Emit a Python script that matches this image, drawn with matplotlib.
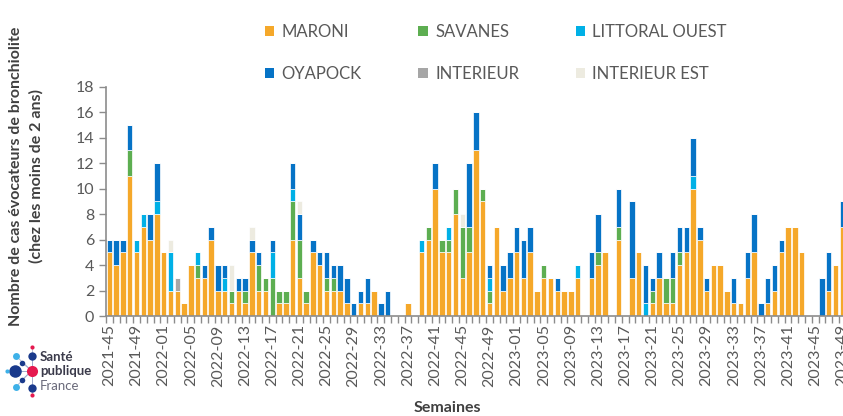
import matplotlib.pyplot as plt
from matplotlib.patches import Patch

plt.rcParams['font.family'] = ['Lato', 'DejaVu Sans']

# weeks 2021-45 .. 2023-49
weeks = [f"2021-{w:02d}" for w in range(45, 53)]
weeks += [f"2022-{w:02d}" for w in range(1, 53)]
weeks += [f"2023-{w:02d}" for w in range(1, 50)]

maroni = [5, 4, 5, 11, 5, 7, 6, 8, 5, 2, 2, 1, 4, 3, 3, 6, 2, 2, 1, 2,
          1, 5, 2, 2, 0, 1, 1, 6, 3, 1, 5, 4, 2, 2, 2, 1, 0, 1, 1, 2,
          0, 0, 0, 0, 1, 0, 5, 6, 10, 5, 5, 8, 3, 5, 13, 9, 1, 7, 2, 3,
          5, 3, 5, 2, 3, 3, 2, 2, 2, 3, 0, 3, 4, 5, 0, 6, 0, 3, 5, 0,
          1, 3, 1, 1, 4, 5, 10, 6, 2, 4, 4, 2, 1, 1, 3, 5, 0, 1, 2, 5,
          7, 7, 5, 0, 0, 0, 2, 4, 7]
savanes = [0, 0, 0, 2, 0, 0, 0, 0, 0, 0, 0, 0, 0, 1, 0, 0, 0, 0, 1, 0,
           1, 0, 2, 1, 3, 1, 1, 3, 3, 1, 0, 0, 1, 1, 0, 0, 0, 0, 0, 0,
           0, 0, 0, 0, 0, 0, 0, 1, 0, 1, 1, 2, 4, 2, 0, 1, 1, 0, 0, 0,
           0, 0, 0, 0, 1, 0, 0, 0, 0, 0, 0, 0, 1, 0, 0, 1, 0, 0, 0, 0,
           1, 0, 2, 2, 1, 0, 0, 0, 0, 0, 0, 0, 0, 0, 0, 0, 0, 0, 0, 0,
           0, 0, 0, 0, 0, 0, 0, 0, 0]
littoral_ouest = [0, 0, 0, 0, 1, 1, 0, 1, 0, 3, 0, 0, 0, 1, 0, 0, 0, 1, 0, 0,
                  0, 0, 0, 0, 2, 0, 0, 1, 0, 0, 0, 0, 0, 0, 0, 0, 0, 0, 0, 0,
                  0, 0, 0, 0, 0, 0, 1, 0, 0, 0, 1, 0, 0, 0, 0, 0, 1, 0, 0, 0,
                  0, 0, 0, 0, 0, 0, 0, 0, 0, 1, 0, 0, 0, 0, 0, 0, 0, 0, 0, 1,
                  0, 0, 0, 0, 0, 0, 1, 0, 0, 0, 0, 0, 0, 0, 0, 0, 0, 0, 0, 0,
                  0, 0, 0, 0, 0, 0, 0, 0, 0]
oyapock = [1, 2, 1, 2, 0, 0, 2, 3, 0, 0, 0, 0, 0, 0, 1, 1, 2, 1, 0, 1,
           1, 1, 1, 0, 1, 0, 0, 2, 2, 0, 1, 1, 2, 1, 2, 2, 1, 1, 2, 0,
           1, 2, 0, 0, 0, 0, 0, 0, 2, 0, 0, 0, 0, 5, 3, 0, 1, 0, 2, 2,
           2, 3, 2, 0, 0, 0, 1, 0, 0, 0, 0, 2, 3, 0, 0, 3, 0, 6, 0, 3,
           1, 2, 0, 2, 2, 2, 3, 1, 1, 0, 0, 0, 2, 0, 2, 3, 1, 2, 2, 1,
           0, 0, 0, 0, 0, 3, 3, 0, 2]
interieur = [0] * len(weeks)
interieur[10] = 1
interieur_est = [0] * len(weeks)
interieur_est[9] = 1
interieur_est[18] = 2
interieur_est[21] = 1
interieur_est[28] = 1
interieur_est[52] = 1

series = [
    ("MARONI", maroni, "#F5A82A"),
    ("SAVANES", savanes, "#5DAE51"),
    ("LITTORAL OUEST", littoral_ouest, "#00B0E6"),
    ("OYAPOCK", oyapock, "#0673C6"),
    ("INTERIEUR", interieur, "#A6A6A6"),
    ("INTERIEUR EST", interieur_est, "#EDEBE0"),
]

grey = "#595959"
fig = plt.figure(figsize=(8.43, 4.16), dpi=100)
ax = fig.add_axes([106 / 843, 100 / 416, 737 / 843, 229.3 / 416])

x = list(range(len(weeks)))
bottom = [0] * len(weeks)
handles = []
for name, vals, col in series:
    ax.bar(x, vals, width=0.8, bottom=bottom, color=col,
           edgecolor="white", linewidth=0.5)
    bottom = [b + v for b, v in zip(bottom, vals)]
    handles.append(Patch(facecolor=col, label=name))

ax.set_xlim(-0.47, 108.1)
ax.set_ylim(0, 18)
ax.set_yticks(range(0, 19, 2))
ax.set_xticks(x[::4])
ax.set_xticklabels(weeks[::4], rotation=90)
ax.set_xticks([i - 0.5 for i in x], minor=True)

for s in ["top", "right"]:
    ax.spines[s].set_visible(False)
for s in ["left", "bottom"]:
    ax.spines[s].set_color("#8c8c8c")
    ax.spines[s].set_linewidth(1.2)
ax.tick_params(axis="y", colors="#8c8c8c", labelcolor=grey, labelsize=11.5,
               length=5, width=1)
ax.tick_params(axis="x", which="major", length=0, labelcolor=grey,
               labelsize=11.5, pad=6)
ax.tick_params(axis="x", which="minor", length=5, color="#8c8c8c", width=1)

ax.set_ylabel("Nombre de cas évocateurs de bronchiolite\n(chez les moins de 2 ans)",
              fontsize=11.5, fontweight="bold", color="#404040", linespacing=1.5)
ax.yaxis.set_label_coords(-0.085, 0.61)
fig.text(447 / 843, 15 / 416, "Semaines", ha="center", va="top",
         fontsize=11.5, fontweight="bold", color="#404040")

# legend filled row by row (matplotlib fills columns first)
order = [0, 3, 1, 4, 2, 5]
leg = fig.legend(handles=[handles[i] for i in order], ncol=3, loc="upper left",
                 bbox_to_anchor=(250 / 843, 1 - 9 / 416), frameon=False,
                 fontsize=12, handlelength=0.55, handleheight=0.55,
                 handletextpad=0.45, columnspacing=3.4, labelspacing=1.55)
for t in leg.get_texts():
    t.set_color(grey)

# Santé publique France logo
lg = fig.add_axes([0, 0, 100 / 843, 80 / 416])
lg.set_xlim(0, 100)
lg.set_ylim(416, 336)
lg.axis("off")
cx, cy = 31.7, 370.7
pts = [(31.7, 347, 3, "#E5194F"), (31.7, 356, 6, "#1A3A8C"), (16, 356, 5, "#3EB1E8"),
       (21.7, 362.7, 4, "#1A3A8C"), (15, 370.7, 9, "#1A3A8C"), (7.3, 370.7, 3, "#3EB1E8"),
       (21.7, 380, 4, "#1A3A8C"), (16, 386.7, 5, "#3EB1E8"), (31.7, 387.7, 6, "#1A3A8C"),
       (31.7, 395, 3, "#E5194F")]
for px, py, s, c in pts:
    lg.plot([cx, px], [cy, py], color="#9aa6c8", linewidth=0.5, zorder=1)
for px, py, s, c in pts:
    lg.scatter(px, py, s=s ** 2, color=c, zorder=2, linewidths=0)
lg.scatter(cx, cy, s=64, color="#E5194F", zorder=3, linewidths=0)
lg.text(40, 357, "Santé", fontsize=9.5, fontweight="bold", color="#3a3a4a", va="center")
lg.text(40, 371, "publique", fontsize=9.5, fontweight="bold", color="#3a3a4a", va="center")
lg.text(40, 386, "France", fontsize=9.5, color="#6a6a7a", va="center")

fig.savefig("out.png", dpi=100)
